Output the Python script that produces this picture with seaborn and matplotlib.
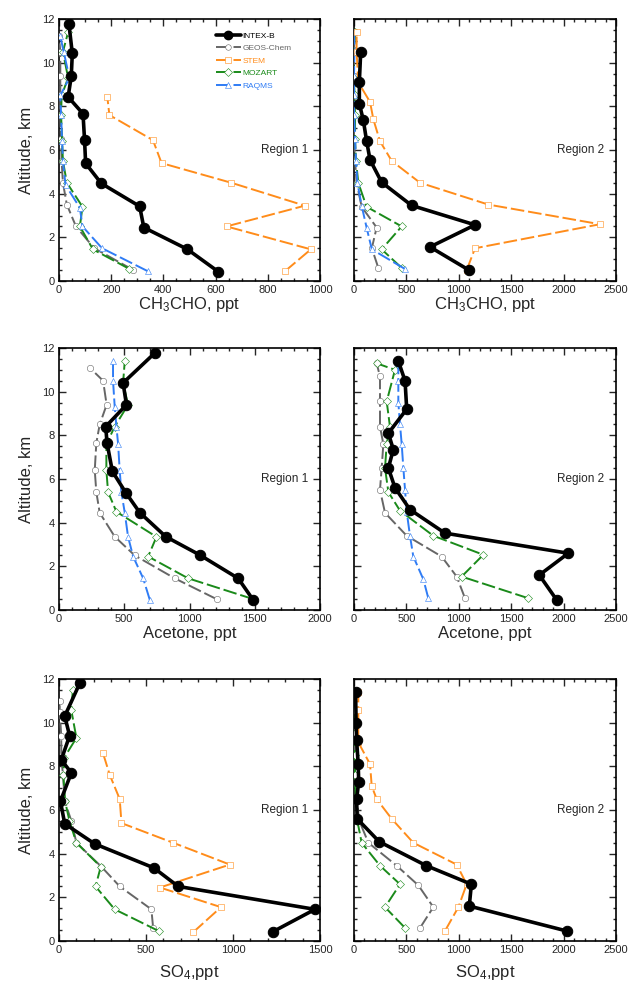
# Perfiles verticales: INTEX-B vs. modelos (CH3CHO, acetona, SO4)
import matplotlib
matplotlib.use("Agg")
import matplotlib.pyplot as plt
import matplotlib.transforms as mtransforms
from matplotlib.lines import Line2D
from matplotlib.ticker import MultipleLocator
import seaborn as sns

sns.set_style("ticks")
plt.rcParams['font.family'] = ['Liberation Sans', 'DejaVu Sans']
plt.rcParams['mathtext.default'] = 'regular'

# ---------------- Datos ----------------
# CH3CHO, Region 1
ch3cho_r1_obs_alt = [0.43, 1.46, 2.45, 3.42, 4.47, 5.39, 6.44, 7.66, 8.43, 9.38, 10.42, 11.77]
ch3cho_r1_obs = [610, 491, 325, 309, 162, 102, 98, 92, 35, 47, 51, 38]
ch3cho_r1_stem_alt = [0.45, 1.45, 2.5, 3.45, 4.5, 5.4, 6.45, 7.6, 8.45]
ch3cho_r1_stem = [866, 965, 642, 942, 660, 393, 360, 193, 185]
ch3cho_r1_geos_alt = [0.5, 1.5, 2.5, 3.5, 4.5, 5.5, 6.5, 7.6, 8.5, 9.4, 10.5, 11.2]
ch3cho_r1_geos = [285, 135, 65, 30, 15, 10, 8, 5, 5, 5, 5, 0]
ch3cho_r1_moz_alt = [0.55, 1.45, 2.5, 3.4, 4.5, 5.5, 6.4, 7.6, 8.5, 9.3, 10.5, 11.4]
ch3cho_r1_moz = [270, 130, 80, 90, 30, 15, 12, 8, 10, 35, 15, 35]
ch3cho_r1_raqms_alt = [0.45, 1.5, 2.5, 3.35, 4.4, 5.5, 6.4, 7.6, 8.5, 9.3, 10.5, 11.2]
ch3cho_r1_raqms = [340, 165, 90, 80, 25, 15, 12, 8, 5, 40, 18, 5]

# CH3CHO, Region 2
ch3cho_r2_obs_alt = [0.49, 1.56, 2.57, 3.46, 4.52, 5.55, 6.39, 7.36, 8.12, 9.12, 10.5]
ch3cho_r2_obs = [1100, 725, 1155, 550, 264, 153, 121, 89, 51, 51, 64]
ch3cho_r2_stem_alt = [0.5, 1.5, 2.6, 3.5, 4.5, 5.5, 6.4, 7.4, 8.2, 9.1, 10.5, 11.4]
ch3cho_r2_stem = [1075, 1155, 2347, 1282, 630, 360, 248, 185, 153, 41, 25, 25]
ch3cho_r2_geos_alt = [0.6, 1.5, 2.45, 3.4, 4.5, 5.5, 6.5, 7.6, 8.5, 9.4, 10.6, 11.4]
ch3cho_r2_geos = [232, 170, 216, 73, 25, 10, 0, 0, 0, 0, 0, 10]
ch3cho_r2_moz_alt = [0.6, 1.45, 2.5, 3.4, 4.5, 5.5, 6.5, 7.6, 8.5, 9.3, 10.5, 11.4]
ch3cho_r2_moz = [455, 264, 455, 120, 41, 19, 10, 10, 5, 0, 0, 10]
ch3cho_r2_raqms_alt = [0.55, 1.45, 2.45, 3.45, 4.5, 5.5, 6.5, 7.6, 8.5, 9.4, 10.6, 11.4]
ch3cho_r2_raqms = [487, 170, 120, 73, 32, 19, 10, 0, 0, 0, 5, 0]

# Acetona, Region 1
acet_r1_obs_alt = [0.46, 1.45, 2.52, 3.36, 4.46, 5.38, 6.35, 7.65, 8.4, 9.4, 10.4, 11.77]
acet_r1_obs = [1488, 1373, 1079, 818, 619, 511, 409, 368, 358, 517, 491, 734]
acet_r1_geos_alt = [0.5, 1.45, 2.5, 3.36, 4.45, 5.4, 6.4, 7.65, 8.5, 9.4, 10.5, 11.1]
acet_r1_geos = [1207, 887, 580, 427, 312, 286, 274, 286, 312, 365, 338, 235]
acet_r1_moz_alt = [0.5, 1.45, 2.45, 3.35, 4.5, 5.4, 6.4, 7.6, 8.4, 9.4, 10.4, 11.4]
acet_r1_moz = [1488, 990, 683, 747, 440, 376, 363, 363, 427, 529, 491, 504]
acet_r1_raqms_alt = [0.46, 1.45, 2.45, 3.36, 4.45, 5.4, 6.4, 7.6, 8.4, 9.3, 10.5, 11.4]
acet_r1_raqms = [696, 645, 568, 529, 504, 478, 465, 453, 440, 427, 414, 414]

# Acetona, Region 2
acet_r2_obs_alt = [0.46, 1.6, 2.6, 3.52, 4.6, 5.6, 6.5, 7.35, 8.1, 9.2, 10.5, 11.4]
acet_r2_obs = [1934, 1768, 2045, 868, 534, 391, 328, 375, 328, 503, 487, 423]
acet_r2_geos_alt = [0.54, 1.53, 2.45, 3.4, 4.45, 5.5, 6.5, 7.6, 8.4, 9.55, 10.7, 11.3]
acet_r2_geos = [1059, 980, 836, 503, 296, 248, 264, 280, 248, 248, 248, 216]
acet_r2_moz_alt = [0.54, 1.53, 2.53, 3.4, 4.55, 5.4, 6.5, 7.6, 8.4, 9.55, 11.0, 11.3]
acet_r2_moz = [1663, 1027, 1234, 757, 439, 328, 296, 312, 343, 312, 391, 216]
acet_r2_raqms_alt = [0.54, 1.4, 2.45, 3.4, 4.5, 5.5, 6.5, 7.6, 8.5, 9.5, 10.5, 11.3]
acet_r2_raqms = [709, 662, 566, 534, 503, 487, 471, 455, 439, 423, 423, 423]

# SO4, Region 1
so4_r1_obs_alt = [0.42, 1.45, 2.5, 3.35, 4.45, 5.37, 6.4, 7.7, 8.3, 9.4, 10.3, 11.8]
so4_r1_obs = [1228, 1471, 685, 545, 205, 33, 8, 71, 13, 61, 33, 119]
so4_r1_stem_alt = [0.4, 1.55, 2.45, 3.5, 4.5, 5.4, 6.5, 7.6, 8.6]
so4_r1_stem = [771, 931, 580, 982, 656, 359, 349, 292, 253]
so4_r1_geos_alt = [0.6, 1.45, 2.5, 3.4, 4.5, 5.5, 6.4, 7.6, 8.4, 9.4, 10.5, 11.0]
so4_r1_geos = [541, 531, 349, 244, 100, 71, 33, 23, 13, 13, 4, 4]
so4_r1_moz_alt = [0.45, 1.45, 2.5, 3.4, 4.5, 5.5, 6.4, 7.6, 8.4, 9.3, 10.6, 11.5]
so4_r1_moz = [575, 320, 210, 240, 100, 60, 35, 25, 30, 100, 70, 80]

# SO4, Region 2
so4_r2_obs_alt = [0.46, 1.6, 2.6, 3.45, 4.55, 5.6, 6.5, 7.3, 8.1, 9.2, 10.0, 11.4]
so4_r2_obs = [2029, 1100, 1120, 690, 240, 30, 25, 45, 40, 25, 20, 15]
so4_r2_stem_alt = [0.46, 1.55, 2.6, 3.5, 4.5, 5.6, 6.5, 7.1, 8.1, 9.1, 10.6, 11.4]
so4_r2_stem = [868, 996, 1075, 980, 566, 359, 216, 169, 153, 41, 41, 41]
so4_r2_geos_alt = [0.6, 1.55, 2.55, 3.45, 4.5, 5.5, 6.5, 7.6, 8.5, 9.5, 10.6, 11.4]
so4_r2_geos = [630, 757, 614, 407, 137, 51, 25, 10, 10, 10, 0, 0]
so4_r2_moz_alt = [0.6, 1.55, 2.6, 3.45, 4.5, 5.5, 6.5, 7.6, 8.5, 9.5, 10.6, 11.4]
so4_r2_moz = [487, 296, 439, 248, 73, 32, 19, 10, 10, 0, 0, 10]

# Estilos de cada serie
colores = {"INTEX-B": "black", "GEOS-Chem": "#666666", "STEM": "#ff8c1a",
           "MOZART": "#1a8a1a", "RAQMS": "#2f7cf5"}
marcadores = {"INTEX-B": "o", "GEOS-Chem": "o", "STEM": "s", "MOZART": "D", "RAQMS": "^"}


def dibujar(ax, nombre, alt, vals):
    c = colores[nombre]
    if nombre == "INTEX-B":
        sns.lineplot(x=vals, y=alt, sort=False, estimator=None, color=c, lw=2.6,
                     marker="o", markersize=7.5, markeredgecolor=c, ax=ax, zorder=5)
    else:
        ms = 4.0 if nombre == "MOZART" else 4.6
        sns.lineplot(x=vals, y=alt, sort=False, estimator=None, color=c, lw=1.4,
                     linestyle=(0, (7, 2)), marker=marcadores[nombre], markersize=ms,
                     markerfacecolor="white", markeredgecolor=c, markeredgewidth=0.4,
                     ax=ax, zorder=3)


def formato(ax, xmax, xmajor, xminor, izquierda, region):
    ax.set_xlim(0, xmax)
    ax.set_ylim(0, 12)
    ax.xaxis.set_major_locator(MultipleLocator(xmajor))
    ax.xaxis.set_minor_locator(MultipleLocator(xminor))
    ax.yaxis.set_major_locator(MultipleLocator(2))
    ax.yaxis.set_minor_locator(MultipleLocator(0.5))
    ax.tick_params(which="both", direction="in", top=True, right=True, width=1,
                   labelsize=8, pad=3, labelleft=izquierda)
    ax.tick_params(which="major", length=5)
    ax.tick_params(which="minor", length=2.5)
    for s in ax.spines.values():
        s.set_linewidth(1.2)
        s.set_color("black")
    trans = mtransforms.blended_transform_factory(ax.transAxes, ax.transData)
    ax.text(0.955, 6, region, transform=trans, ha="right", va="center", fontsize=8.5)
    if izquierda:
        ax.set_ylabel("Altitude, km", fontsize=12, labelpad=6)


fig = plt.figure(figsize=(6.3, 9.89), dpi=100)
W, H = 630, 989


def ejes(x0, y_top, w, h=262):
    return fig.add_axes([x0 / W, (H - y_top - h) / H, w / W, h / H])


ax1 = ejes(59, 19, 261)
ax2 = ejes(354, 19, 262)
ax3 = ejes(59, 348, 261)
ax4 = ejes(354, 348, 262)
ax5 = ejes(59, 679, 261)
ax6 = ejes(354, 679, 262)

# Fila 1: CH3CHO
dibujar(ax1, "GEOS-Chem", ch3cho_r1_geos_alt, ch3cho_r1_geos)
dibujar(ax1, "MOZART", ch3cho_r1_moz_alt, ch3cho_r1_moz)
dibujar(ax1, "RAQMS", ch3cho_r1_raqms_alt, ch3cho_r1_raqms)
dibujar(ax1, "STEM", ch3cho_r1_stem_alt, ch3cho_r1_stem)
dibujar(ax1, "INTEX-B", ch3cho_r1_obs_alt, ch3cho_r1_obs)

dibujar(ax2, "GEOS-Chem", ch3cho_r2_geos_alt, ch3cho_r2_geos)
dibujar(ax2, "MOZART", ch3cho_r2_moz_alt, ch3cho_r2_moz)
dibujar(ax2, "RAQMS", ch3cho_r2_raqms_alt, ch3cho_r2_raqms)
dibujar(ax2, "STEM", ch3cho_r2_stem_alt, ch3cho_r2_stem)
dibujar(ax2, "INTEX-B", ch3cho_r2_obs_alt, ch3cho_r2_obs)

# Fila 2: Acetona
dibujar(ax3, "GEOS-Chem", acet_r1_geos_alt, acet_r1_geos)
dibujar(ax3, "MOZART", acet_r1_moz_alt, acet_r1_moz)
dibujar(ax3, "RAQMS", acet_r1_raqms_alt, acet_r1_raqms)
dibujar(ax3, "INTEX-B", acet_r1_obs_alt, acet_r1_obs)

dibujar(ax4, "GEOS-Chem", acet_r2_geos_alt, acet_r2_geos)
dibujar(ax4, "MOZART", acet_r2_moz_alt, acet_r2_moz)
dibujar(ax4, "RAQMS", acet_r2_raqms_alt, acet_r2_raqms)
dibujar(ax4, "INTEX-B", acet_r2_obs_alt, acet_r2_obs)

# Fila 3: SO4
dibujar(ax5, "GEOS-Chem", so4_r1_geos_alt, so4_r1_geos)
dibujar(ax5, "MOZART", so4_r1_moz_alt, so4_r1_moz)
dibujar(ax5, "STEM", so4_r1_stem_alt, so4_r1_stem)
dibujar(ax5, "INTEX-B", so4_r1_obs_alt, so4_r1_obs)

dibujar(ax6, "GEOS-Chem", so4_r2_geos_alt, so4_r2_geos)
dibujar(ax6, "MOZART", so4_r2_moz_alt, so4_r2_moz)
dibujar(ax6, "STEM", so4_r2_stem_alt, so4_r2_stem)
dibujar(ax6, "INTEX-B", so4_r2_obs_alt, so4_r2_obs)

formato(ax1, 1000, 200, 50, True, "Region 1")
formato(ax2, 2500, 500, 100, False, "Region 2")
formato(ax3, 2000, 500, 100, True, "Region 1")
formato(ax4, 2500, 500, 100, False, "Region 2")
formato(ax5, 1500, 500, 100, True, "Region 1")
formato(ax6, 2500, 500, 100, False, "Region 2")

for ax in (ax1, ax2):
    ax.set_xlabel("CH$_3$CHO, ppt", fontsize=12, labelpad=0)
for ax in (ax3, ax4):
    ax.set_xlabel("Acetone, ppt", fontsize=12, labelpad=1)
for ax in (ax5, ax6):
    ax.set_xlabel("SO$_4$,ppt", fontsize=12, labelpad=6)

# Leyenda (solo en el primer panel)
handles = []
for nombre in ["INTEX-B", "GEOS-Chem", "STEM", "MOZART", "RAQMS"]:
    c = colores[nombre]
    if nombre == "INTEX-B":
        h = Line2D([], [], color=c, lw=2.6, marker="o", markersize=6)
    else:
        h = Line2D([], [], color=c, lw=1.4, linestyle=(0, (7, 2)),
                   marker=marcadores[nombre], markersize=4, markerfacecolor="white",
                   markeredgecolor=c, markeredgewidth=0.4)
    handles.append(h)
leg = ax1.legend(handles, ["INTEX-B", "GEOS-Chem", "STEM", "MOZART", "RAQMS"],
                 loc="upper left", bbox_to_anchor=(0.6, 0.95), frameon=False,
                 fontsize=6, handlelength=3, handletextpad=0.2, labelspacing=0.55,
                 borderpad=0, borderaxespad=0)
for txt, nombre in zip(leg.get_texts(), ["INTEX-B", "GEOS-Chem", "STEM", "MOZART", "RAQMS"]):
    txt.set_color(colores[nombre])

fig.savefig("out.png", dpi=100)
